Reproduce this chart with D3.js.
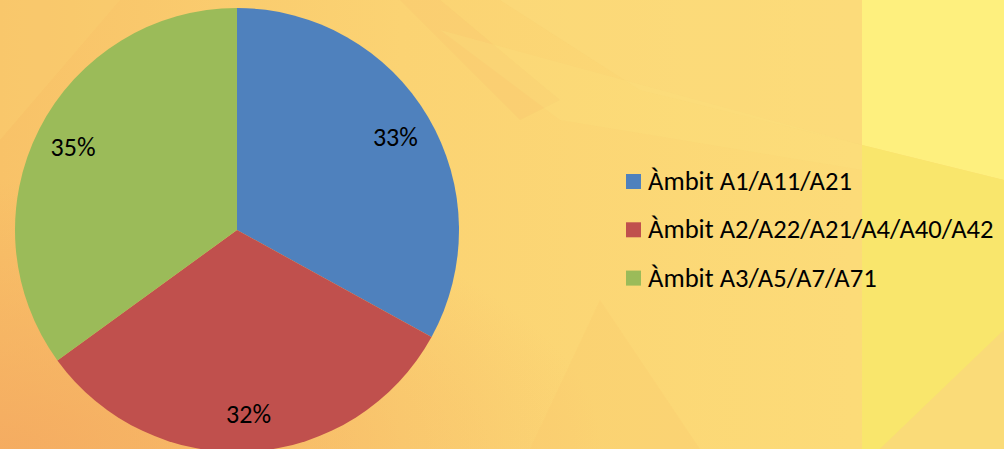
<!DOCTYPE html>
<html>
<head>
<meta charset="utf-8">
<script src="https://cdn.jsdelivr.net/npm/d3@7"></script>
<style>
  html, body { margin: 0; padding: 0; overflow: hidden; }
  svg { display: block; }
  text { font-family: Carlito, Calibri, Lato, "Open Sans", sans-serif; fill: #000; }
</style>
</head>
<body>
<svg id="chart" width="1004" height="449"></svg>
<script>
const categories = ["Àmbit A1/A11/A21", "Àmbit A2/A22/A21/A4/A40/A42", "Àmbit A3/A5/A7/A71"];
const values = [33, 32, 35];
const labels = ["33%", "32%", "35%"];
const colors = ["#4F81BD", "#C0504D", "#9BBB59"];

const W = 1004, H = 449;
const svg = d3.select("#chart");
const defs = svg.append("defs");

// Background
const lg = defs.append("linearGradient").attr("id", "bg").attr("x1", 0).attr("y1", 0).attr("x2", 1).attr("y2", 0);
lg.append("stop").attr("offset", "0%").attr("stop-color", "#F8C268");
lg.append("stop").attr("offset", "40%").attr("stop-color", "#FBD373");
lg.append("stop").attr("offset", "85%").attr("stop-color", "#FCDB78");
lg.append("stop").attr("offset", "100%").attr("stop-color", "#FCDC79");
svg.append("rect").attr("width", W).attr("height", H).attr("fill", "url(#bg)");

const rg = defs.append("radialGradient").attr("id", "bl").attr("cx", 0).attr("cy", 1).attr("r", 0.6);
rg.append("stop").attr("offset", "0%").attr("stop-color", "#F4A860").attr("stop-opacity", 0.85);
rg.append("stop").attr("offset", "100%").attr("stop-color", "#F4A860").attr("stop-opacity", 0);
svg.append("rect").attr("width", W).attr("height", H).attr("fill", "url(#bl)");

const facets = [
  {p: [[862,0],[1004,0],[1004,180],[862,145]], c: "#FEF07E", o: 1},
  {p: [[862,145],[1004,180],[1004,330],[880,449],[862,449]], c: "#F9E66C", o: 1},
  {p: [[1004,330],[1004,449],[880,449]], c: "#FADB78", o: 1},
  {p: [[500,0],[862,0],[862,145],[640,90]], c: "#FCDC7C", o: 0.5},
  {p: [[400,0],[440,0],[560,100],[520,120]], c: "#F7C06A", o: 0.25},
  {p: [[440,30],[862,145],[862,170],[560,120]], c: "#FDE27E", o: 0.25},
  {p: [[530,449],[600,300],[700,449]], c: "#F8C46A", o: 0.2},
  {p: [[0,0],[120,0],[0,140]], c: "#FBD070", o: 0.4}
];
svg.append("g").selectAll("polygon").data(facets).join("polygon")
  .attr("points", d => d.p.map(q => q.join(",")).join(" "))
  .attr("fill", d => d.c).attr("fill-opacity", d => d.o);

// Pie
const cx = 237, cy = 230, R = 222;
const pie = d3.pie().sort(null).value(d => d)(values);
const arc = d3.arc().innerRadius(0).outerRadius(R);
const labelArc = d3.arc().innerRadius(184).outerRadius(184);
const g = svg.append("g").attr("transform", `translate(${cx},${cy})`);
g.selectAll("path").data(pie).join("path")
  .attr("d", arc).attr("fill", (d, i) => colors[i]);
g.selectAll("text").data(pie).join("text")
  .attr("transform", d => `translate(${labelArc.centroid(d)})`)
  .attr("text-anchor", "middle").attr("dy", "0.36em")
  .style("font-size", "26px")
  .text((d, i) => labels[i]);

// Legend
const leg = svg.append("g").attr("transform", "translate(626,174)");
const items = leg.selectAll("g").data(categories).join("g")
  .attr("transform", (d, i) => `translate(0,${i * 48.3})`);
items.append("rect").attr("width", 15).attr("height", 15).attr("fill", (d, i) => colors[i]);
items.append("text").attr("x", 22).attr("y", 16).style("font-size", "26.6px").text(d => d);
</script>
</body>
</html>
